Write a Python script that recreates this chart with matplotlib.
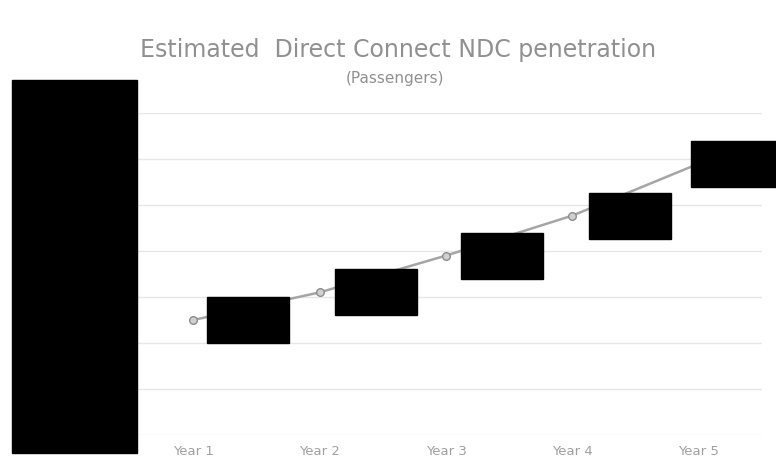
import matplotlib.pyplot as plt
import matplotlib.transforms as mtransforms
from matplotlib.patches import Rectangle

years = ['Year 1', 'Year 2', 'Year 3', 'Year 4', 'Year 5']
penetration = [0.25, 0.31, 0.39, 0.477, 0.59]
# horizontal shift of each (blacked out) data label, inches
label_dx = [0.55, 0.56, 0.56, 0.58, 0.38]
label_w = [0.82, 0.82, 0.82, 0.82, 0.92]

grey_text = '#a0a0a0'

fig = plt.figure(figsize=(7.76, 4.73), dpi=100)
ax = fig.add_axes([130 / 776, 38 / 473, 632 / 776, 322 / 473])

x = range(len(years))
ax.plot(x, penetration, color='#a5a5a5', lw=1.8, marker='o', ms=5.5,
        mfc='#d0d0d0', mec='#8c8c8c', mew=1, zorder=3)

ax.set_xlim(-0.5, len(years) - 0.5)
ax.set_ylim(0, 0.7)
ax.set_yticks([i / 10 for i in range(8)])
ax.set_yticklabels([])
ax.set_xticks(list(x))
ax.set_xticklabels(years, color=grey_text, fontsize=9.5)
ax.tick_params(length=0, pad=7)
ax.grid(axis='y', color='#e6e6e6', lw=1)
ax.set_axisbelow(True)
for s in ax.spines.values():
    s.set_visible(False)

# redacted data labels
for xi, yi, dx, w in zip(x, penetration, label_dx, label_w):
    trans = fig.dpi_scale_trans + mtransforms.ScaledTranslation(xi, yi, ax.transData)
    ax.add_patch(Rectangle((dx - w / 2, -0.23), w, 0.46, transform=trans,
                           color='black', clip_on=False, zorder=5))

# redacted axis area
fig.patches.append(Rectangle((12 / 776, 20 / 473), 125 / 776, 373 / 473,
                             transform=fig.transFigure, color='black', zorder=5))

fig.text(398 / 776, 423 / 473, 'Estimated  Direct Connect NDC penetration',
         ha='center', va='center', fontsize=17, color='#909090')
fig.text(395 / 776, 395 / 473, '(Passengers)', ha='center', va='center',
         fontsize=11, color='#909090')

fig.savefig('out.png', dpi=100)
